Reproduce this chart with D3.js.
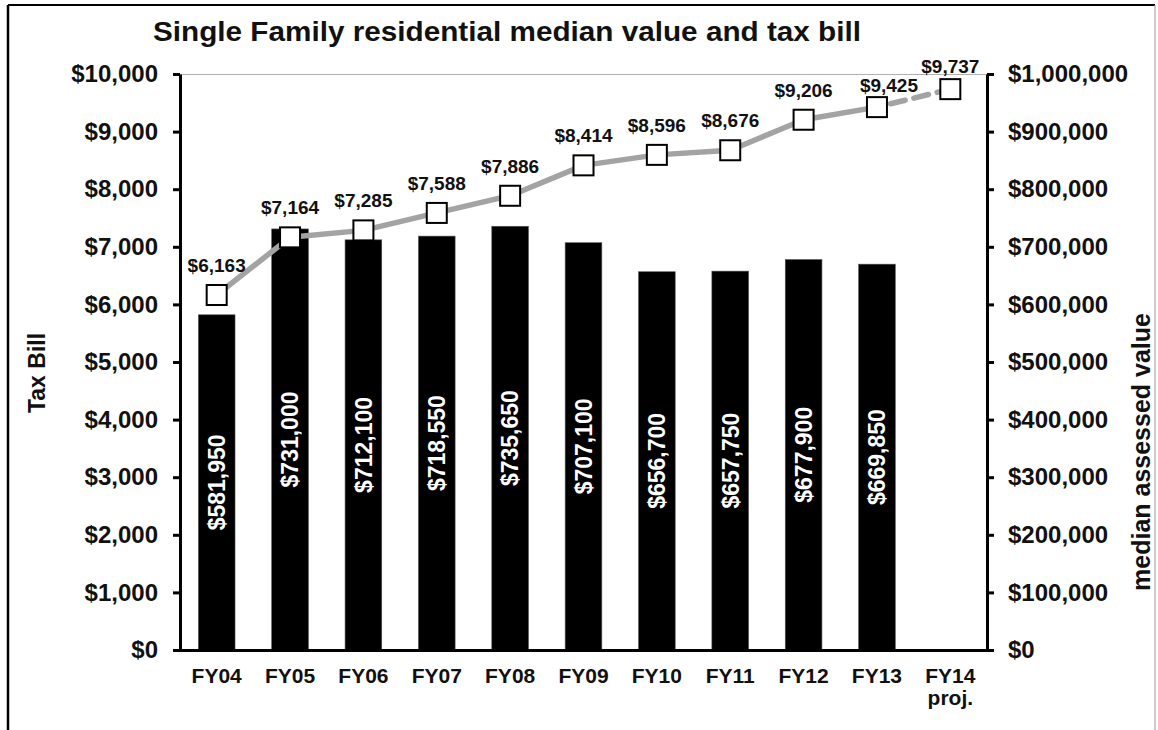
<!DOCTYPE html>
<html>
<head>
<meta charset="utf-8">
<script src="https://cdn.jsdelivr.net/npm/d3@7"></script>
<style>
  html, body { margin: 0; padding: 0; background: #fff; }
  svg { display: block; font-family: "Liberation Sans", Arial, sans-serif; }
</style>
</head>
<body>
<svg id="chart" width="1158" height="730"></svg>
<script>
// ---- data ----
const categories = ["FY04", "FY05", "FY06", "FY07", "FY08", "FY09", "FY10", "FY11", "FY12", "FY13", "FY14 proj."];
const taxBill = [6163, 7164, 7285, 7588, 7886, 8414, 8596, 8676, 9206, 9425, 9737];
const medianValue = [581950, 731000, 712100, 718550, 735650, 707100, 656700, 657750, 677900, 669850, null];
const leftTicks = [0, 1000, 2000, 3000, 4000, 5000, 6000, 7000, 8000, 9000, 10000];
const rightTicks = [0, 100000, 200000, 300000, 400000, 500000, 600000, 700000, 800000, 900000, 1000000];
const projectedFrom = "FY13"; // line is dashed from this category onward

// ---- layout ----
const L = 180, R = 987, T = 74, B = 650;
const svg = d3.select("#chart");
const fmt = d3.format("$,.0f");

const x = d3.scaleBand().domain(categories).range([L, R]).paddingInner(0.5).paddingOuter(0.25);
const yL = d3.scaleLinear().domain([0, 10000]).range([B, T]);
const yR = d3.scaleLinear().domain([0, 1000000]).range([B, T]);
const cx = c => x(c) + x.bandwidth() / 2;

// outer frame
svg.append("line").attr("x1", 8).attr("x2", 8).attr("y1", 5).attr("y2", 730).attr("stroke", "#000").attr("stroke-width", 2.5);
svg.append("line").attr("x1", 8).attr("x2", 1155).attr("y1", 5).attr("y2", 5).attr("stroke", "#000").attr("stroke-width", 2);
svg.append("line").attr("x1", 1155).attr("x2", 1155).attr("y1", 5).attr("y2", 730).attr("stroke", "#999").attr("stroke-width", 1);

// top plot border
svg.append("line").attr("x1", L).attr("x2", R).attr("y1", T + 0.5).attr("y2", T + 0.5).attr("stroke", "#b0b0b0").attr("stroke-width", 1);

// title
svg.append("text").attr("x", 507).attr("y", 41).attr("text-anchor", "middle")
  .attr("font-size", 28).attr("font-weight", "bold").attr("fill", "#111")
  .attr("textLength", 708).attr("lengthAdjust", "spacingAndGlyphs")
  .text("Single Family residential median value and tax bill");

// bars (right axis)
const barData = categories.map((c, i) => ({ c, v: medianValue[i] })).filter(d => d.v != null);
svg.append("g").selectAll("rect").data(barData).join("rect")
  .attr("x", d => x(d.c)).attr("width", x.bandwidth())
  .attr("y", d => yR(d.v)).attr("height", d => B - yR(d.v))
  .attr("fill", "#000").attr("stroke", "#555").attr("stroke-width", 0.6);

// bar labels
svg.append("g").selectAll("text").data(barData).join("text")
  .attr("transform", d => `translate(${cx(d.c)},${(yR(d.v) + B) / 2}) rotate(-90)`)
  .attr("text-anchor", "middle").attr("dy", "0.36em")
  .attr("font-size", 23).attr("font-weight", "bold").attr("fill", "#fff")
  .text(d => fmt(d.v));

// axes
const axisStyle = g => {
  g.select(".domain").attr("stroke", "#000").attr("stroke-width", 3);
  g.selectAll(".tick line").attr("stroke", "#000").attr("stroke-width", 3);
  g.selectAll(".tick text").attr("font-size", 24).attr("font-weight", "bold").attr("fill", "#111")
    .attr("font-family", "Liberation Sans, Arial, sans-serif");
};
svg.append("g").attr("transform", `translate(${L},0)`)
  .call(d3.axisLeft(yL).tickValues(leftTicks).tickFormat(fmt).tickSize(7).tickSizeOuter(0).tickPadding(15))
  .call(axisStyle);
svg.append("g").attr("transform", `translate(${R},0)`)
  .call(d3.axisRight(yR).tickValues(rightTicks).tickFormat(fmt).tickSize(7).tickSizeOuter(0).tickPadding(14))
  .call(axisStyle);
const xAxis = svg.append("g").attr("transform", `translate(0,${B})`)
  .call(d3.axisBottom(x).tickSize(0).tickSizeOuter(0).tickPadding(18).tickFormat(() => ""));
xAxis.select(".domain").attr("stroke", "#000").attr("stroke-width", 3).attr("d", `M${L - 1},0.5H${R + 1}`);
xAxis.selectAll(".tick text").each(function(c) {
  const t = d3.select(this).attr("dy", null).attr("font-size", 21).attr("font-weight", "bold").attr("fill", "#111")
    .attr("font-family", "Liberation Sans, Arial, sans-serif");
  const parts = c.split(" ");
  parts.forEach((p, i) => {
    t.append("tspan").attr("x", 0).attr("dy", i === 0 ? "0.72em" : "1.02em").text(p);
  });
});

// axis titles
svg.append("text").attr("transform", "translate(45,373) rotate(-90)").attr("text-anchor", "middle")
  .attr("font-size", 23).attr("font-weight", "bold").attr("fill", "#111").text("Tax Bill");
svg.append("text").attr("transform", "translate(1150,452) rotate(-90)").attr("text-anchor", "middle")
  .attr("font-size", 25).attr("font-weight", "bold").attr("fill", "#111").text("median assessed value");

// tax bill line (left axis)
const pts = categories.map((c, i) => ({ c, v: taxBill[i] }));
const splitIdx = categories.indexOf(projectedFrom);
const line = d3.line().x(d => cx(d.c)).y(d => yL(d.v));
svg.append("path").datum(pts.slice(0, splitIdx + 1)).attr("d", line)
  .attr("fill", "none").attr("stroke", "#a3a3a3").attr("stroke-width", 5.5).attr("stroke-linejoin", "round");
svg.append("path").datum(pts.slice(splitIdx)).attr("d", line)
  .attr("fill", "none").attr("stroke", "#a3a3a3").attr("stroke-width", 5.5)
  .attr("stroke-dasharray", "15,9").attr("stroke-dashoffset", -14).attr("stroke-linecap", "round");

// markers
const ms = 20;
svg.append("g").selectAll("rect").data(pts).join("rect")
  .attr("x", d => cx(d.c) - ms / 2).attr("y", d => yL(d.v) - ms / 2)
  .attr("width", ms).attr("height", ms)
  .attr("fill", "#fff").attr("stroke", "#000").attr("stroke-width", 2);

// line labels
const labelNudge = { "FY13": [12, 8], "FY14 proj.": [0, 7] };
svg.append("g").selectAll("text").data(pts).join("text")
  .attr("x", d => cx(d.c) + (labelNudge[d.c] ? labelNudge[d.c][0] : 0))
  .attr("y", d => yL(d.v) - 23 + (labelNudge[d.c] ? labelNudge[d.c][1] : 0))
  .attr("text-anchor", "middle").attr("font-size", 19).attr("font-weight", "bold").attr("fill", "#111")
  .text(d => fmt(d.v));
</script>
</body>
</html>
